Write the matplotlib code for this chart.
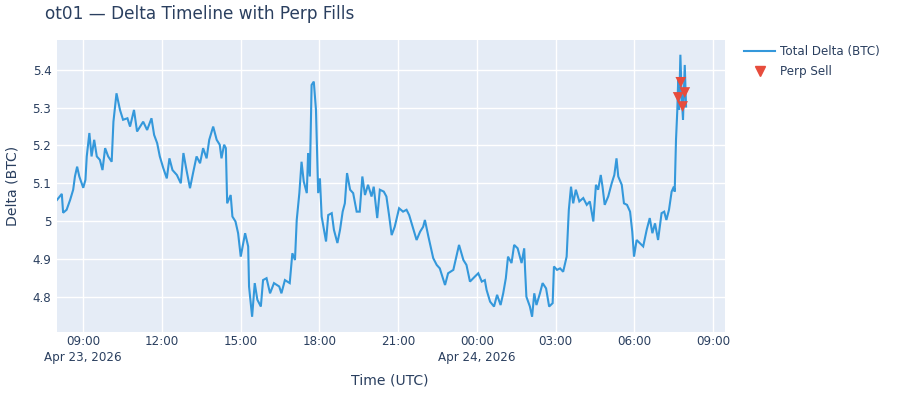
import pandas as pd
import matplotlib.pyplot as plt
from matplotlib.lines import Line2D

# total delta readings (UTC)
delta_times = [
    "04-23 08:00", "04-23 08:11", "04-23 08:14", "04-23 08:22", "04-23 08:30", "04-23 08:37",
    "04-23 08:41", "04-23 08:46", "04-23 08:51", "04-23 09:00", "04-23 09:05", "04-23 09:08",
    "04-23 09:14", "04-23 09:19", "04-23 09:25", "04-23 09:31", "04-23 09:38", "04-23 09:44",
    "04-23 09:50", "04-23 09:57", "04-23 10:05", "04-23 10:09", "04-23 10:16", "04-23 10:24",
    "04-23 10:31", "04-23 10:41", "04-23 10:47", "04-23 10:56", "04-23 11:03", "04-23 11:17",
    "04-23 11:26", "04-23 11:36", "04-23 11:42", "04-23 11:49", "04-23 11:55", "04-23 12:03",
    "04-23 12:11", "04-23 12:17", "04-23 12:24", "04-23 12:34", "04-23 12:43", "04-23 12:49",
    "04-23 12:56", "04-23 13:04", "04-23 13:11", "04-23 13:19", "04-23 13:27", "04-23 13:34",
    "04-23 13:42", "04-23 13:48", "04-23 13:57", "04-23 14:05", "04-23 14:12", "04-23 14:16",
    "04-23 14:22", "04-23 14:26", "04-23 14:29", "04-23 14:37", "04-23 14:41", "04-23 14:48",
    "04-23 14:54", "04-23 15:00", "04-23 15:10", "04-23 15:17", "04-23 15:19", "04-23 15:26",
    "04-23 15:32", "04-23 15:38", "04-23 15:46", "04-23 15:51", "04-23 15:59", "04-23 16:07",
    "04-23 16:16", "04-23 16:28", "04-23 16:33", "04-23 16:41", "04-23 16:52", "04-23 16:58",
    "04-23 17:04", "04-23 17:08", "04-23 17:14", "04-23 17:19", "04-23 17:24", "04-23 17:31",
    "04-23 17:34", "04-23 17:38", "04-23 17:42", "04-23 17:47", "04-23 17:52", "04-23 17:57",
    "04-23 18:01", "04-23 18:05", "04-23 18:15", "04-23 18:20", "04-23 18:28", "04-23 18:33",
    "04-23 18:41", "04-23 18:47", "04-23 18:53", "04-23 18:58", "04-23 19:03", "04-23 19:10",
    "04-23 19:17", "04-23 19:25", "04-23 19:32", "04-23 19:38", "04-23 19:44", "04-23 19:51",
    "04-23 19:59", "04-23 20:04", "04-23 20:12", "04-23 20:18", "04-23 20:27", "04-23 20:33",
    "04-23 20:39", "04-23 20:45", "04-23 20:52", "04-23 21:02", "04-23 21:11", "04-23 21:19",
    "04-23 21:25", "04-23 21:33", "04-23 21:42", "04-23 21:50", "04-23 21:57", "04-23 22:01",
    "04-23 22:09", "04-23 22:14", "04-23 22:20", "04-23 22:28", "04-23 22:35", "04-23 22:47",
    "04-23 22:54", "04-23 23:06", "04-23 23:13", "04-23 23:19", "04-23 23:29", "04-23 23:36",
    "04-23 23:44", "04-23 23:55", "04-24 00:03", "04-24 00:11", "04-24 00:18", "04-24 00:22",
    "04-24 00:30", "04-24 00:39", "04-24 00:46", "04-24 00:54", "04-24 01:00", "04-24 01:06",
    "04-24 01:11", "04-24 01:19", "04-24 01:25", "04-24 01:33", "04-24 01:42", "04-24 01:48",
    "04-24 01:50", "04-24 01:53", "04-24 02:01", "04-24 02:06", "04-24 02:11", "04-24 02:16",
    "04-24 02:24", "04-24 02:30", "04-24 02:38", "04-24 02:45", "04-24 02:53", "04-24 02:56",
    "04-24 03:03", "04-24 03:10", "04-24 03:17", "04-24 03:25", "04-24 03:30", "04-24 03:35",
    "04-24 03:40", "04-24 03:46", "04-24 03:54", "04-24 04:03", "04-24 04:11", "04-24 04:18",
    "04-24 04:26", "04-24 04:32", "04-24 04:37", "04-24 04:43", "04-24 04:47", "04-24 04:52",
    "04-24 05:00", "04-24 05:08", "04-24 05:14", "04-24 05:19", "04-24 05:23", "04-24 05:31",
    "04-24 05:36", "04-24 05:43", "04-24 05:50", "04-24 05:55", "04-24 05:59", "04-24 06:05",
    "04-24 06:12", "04-24 06:20", "04-24 06:28", "04-24 06:35", "04-24 06:41", "04-24 06:47",
    "04-24 06:54", "04-24 07:02", "04-24 07:08", "04-24 07:13", "04-24 07:19", "04-24 07:25",
    "04-24 07:30", "04-24 07:32", "04-24 07:35", "04-24 07:38", "04-24 07:40", "04-24 07:42",
    "04-24 07:45", "04-24 07:48", "04-24 07:51", "04-24 07:55", "04-24 07:58",
]
delta_values = [
    5.056, 5.072, 5.022, 5.030, 5.056, 5.083,
    5.118, 5.144, 5.118, 5.088, 5.109, 5.171,
    5.233, 5.171, 5.215, 5.171, 5.162, 5.135,
    5.193, 5.171, 5.157, 5.263, 5.338, 5.294,
    5.268, 5.272, 5.250, 5.294, 5.237, 5.263,
    5.241, 5.272, 5.228, 5.206, 5.171, 5.140,
    5.113, 5.166, 5.135, 5.122, 5.100, 5.180,
    5.135, 5.087, 5.127, 5.171, 5.153, 5.193,
    5.166, 5.215, 5.250, 5.215, 5.202, 5.166,
    5.202, 5.193, 5.047, 5.069, 5.012, 4.999,
    4.968, 4.906, 4.968, 4.933, 4.827, 4.747,
    4.836, 4.792, 4.774, 4.844, 4.849, 4.809,
    4.836, 4.827, 4.809, 4.844, 4.836, 4.915,
    4.897, 5.003, 5.074, 5.157, 5.105, 5.074,
    5.180, 5.118, 5.360, 5.369, 5.294, 5.074,
    5.113, 5.012, 4.946, 5.016, 5.021, 4.977,
    4.942, 4.977, 5.025, 5.047, 5.127, 5.083,
    5.074, 5.025, 5.025, 5.118, 5.069, 5.096,
    5.065, 5.091, 5.008, 5.083, 5.078, 5.065,
    5.016, 4.963, 4.985, 5.034, 5.025, 5.030,
    5.016, 4.985, 4.950, 4.972, 4.985, 5.003,
    4.959, 4.933, 4.902, 4.884, 4.875, 4.831,
    4.862, 4.871, 4.906, 4.937, 4.897, 4.884,
    4.840, 4.853, 4.862, 4.840, 4.844, 4.818,
    4.787, 4.774, 4.805, 4.778, 4.809, 4.849,
    4.906, 4.889, 4.937, 4.928, 4.889, 4.928,
    4.871, 4.800, 4.774, 4.747, 4.809, 4.778,
    4.809, 4.836, 4.822, 4.774, 4.783, 4.880,
    4.871, 4.875, 4.866, 4.906, 5.030, 5.091,
    5.047, 5.083, 5.052, 5.061, 5.043, 5.052,
    4.999, 5.096, 5.083, 5.122, 5.091, 5.043,
    5.065, 5.100, 5.122, 5.166, 5.118, 5.096,
    5.047, 5.043, 5.025, 4.972, 4.906, 4.950,
    4.942, 4.933, 4.977, 5.008, 4.968, 4.994,
    4.950, 5.021, 5.025, 5.003, 5.030, 5.078,
    5.091, 5.078, 5.215, 5.294, 5.374, 5.294,
    5.440, 5.329, 5.268, 5.413, 5.303,
]

# perp sell fills
sell_times = ["04-24 07:40", "04-24 07:46", "04-24 07:50", "04-24 07:55"]
sell_values = [5.327, 5.367, 5.303, 5.340]

x_ticks = ["04-23 09:00", "04-23 12:00", "04-23 15:00", "04-23 18:00", "04-23 21:00",
           "04-24 00:00", "04-24 03:00", "04-24 06:00", "04-24 09:00"]
x_tick_labels = ["09:00\nApr 23, 2026", "12:00", "15:00", "18:00", "21:00",
                 "00:00\nApr 24, 2026", "03:00", "06:00", "09:00"]
y_ticks = [4.8, 4.9, 5.0, 5.1, 5.2, 5.3, 5.4]
y_tick_labels = ["4.8", "4.9", "5", "5.1", "5.2", "5.3", "5.4"]


def to_dt(labels):
    return pd.to_datetime(["2026-" + s for s in labels], format="%Y-%m-%d %H:%M")


def main():
    plt.rcParams['font.family'] = ['DejaVu Sans']
    text_col = '#2a3f5f'

    fig = plt.figure(figsize=(9, 4), dpi=100)
    ax = fig.add_axes([57 / 900, 1 - 331.5 / 400, (725 - 57) / 900, (331.5 - 40) / 400])
    ax.set_facecolor('#E5ECF6')
    for s in ax.spines.values():
        s.set_visible(False)
    ax.grid(True, color='white', linewidth=1)
    ax.set_axisbelow(True)

    ax.plot(to_dt(delta_times), delta_values, color='#3498db', linewidth=1.5,
            solid_joinstyle='miter', zorder=3)
    ax.scatter(to_dt(sell_times), sell_values, marker='v', s=60, color='#e74c3c',
               edgecolors='none', zorder=4)

    ax.set_xlim(pd.Timestamp("2026-04-23 08:00"), pd.Timestamp("2026-04-24 09:27"))
    ax.set_ylim(4.708, 5.479)
    ax.set_xticks(to_dt(x_ticks))
    ax.set_xticklabels(x_tick_labels)
    ax.set_yticks(y_ticks)
    ax.set_yticklabels(y_tick_labels)
    ax.tick_params(length=0, labelsize=8.6, labelcolor=text_col)
    ax.tick_params(axis='x', pad=2.5)
    ax.tick_params(axis='y', pad=4)
    for lbl in ax.get_xticklabels():
        lbl.set_linespacing(1.3)

    fig.text(390 / 900, 1 - 381 / 400, "Time (UTC)", ha='center', va='center',
             fontsize=10.1, color=text_col)
    fig.text(12.5 / 900, 1 - 186 / 400, "Delta (BTC)", ha='center', va='center',
             rotation=90, fontsize=10.1, color=text_col)
    fig.text(45 / 900, 1 - 14 / 400, "ot01 \u2014 Delta Timeline with Perp Fills",
             ha='left', va='center', fontsize=12.2, color=text_col)

    handles = [
        Line2D([], [], color='#3498db', linewidth=1.5),
        Line2D([], [], color='#e74c3c', marker='v', linestyle='none', markersize=7),
    ]
    fig.legend(handles, ["Total Delta (BTC)", "Perp Sell"], loc='upper left',
               bbox_to_anchor=(744 / 900, 1 - 45 / 400), frameon=False,
               fontsize=8.6, labelcolor=text_col, handlelength=2.6,
               handletextpad=0.45, labelspacing=0.6, borderpad=0, borderaxespad=0)

    plt.savefig('out.png', dpi=100)


if __name__ == '__main__':
    main()
